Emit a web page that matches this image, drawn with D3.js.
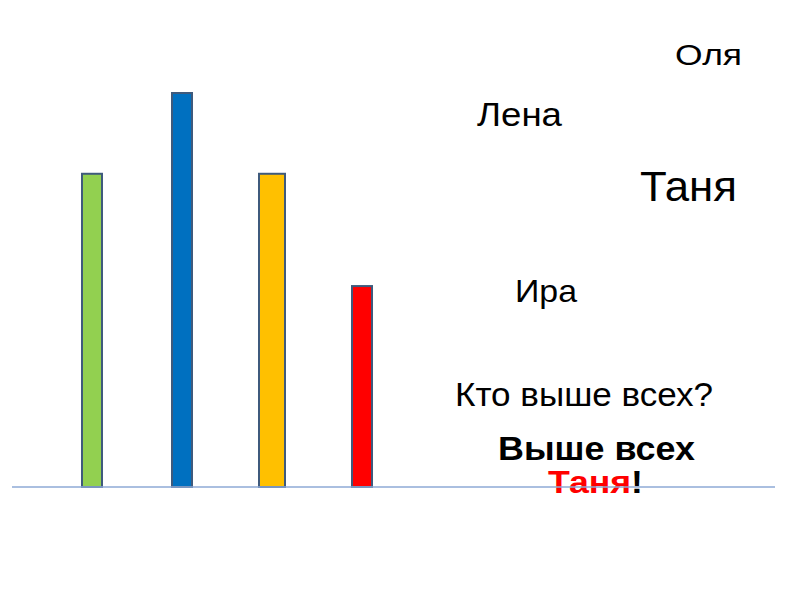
<!DOCTYPE html>
<html>
<head>
<meta charset="utf-8">
<script src="https://cdn.jsdelivr.net/npm/d3@7"></script>
<style>
  body { margin: 0; background: #fff; }
  svg { display: block; font-family: "Liberation Sans", Arial, sans-serif; }
</style>
</head>
<body>
<script>
// bar data (heights)
var girls = ["Оля", "Таня", "Лена", "Ира"];
var heights = [159, 200, 159, 102];
var colors = ["#92d050", "#0070c0", "#ffc000", "#ff0000"];
var barWidths = [20, 20, 26, 20];

var width = 800,
    height = 600;

var svg = d3.select("body")
    .append("svg")
    .attr("width", width)
    .attr("height", height);

var x = d3.scaleBand()
    .domain(girls)
    .range([47, 407]);

var y = d3.scaleLinear()
    .domain([0, 200])
    .range([487, 93]);

//bars
svg.selectAll(".bar")
    .data(girls)
    .enter()
    .append("rect")
    .attr("class", "bar")
    .attr("x", function(d, i){ return x(d) + x.bandwidth() / 2 - barWidths[i] / 2; })
    .attr("y", function(d, i){ return y(heights[i]); })
    .attr("width", function(d, i){ return barWidths[i]; })
    .attr("height", function(d, i){ return y(0) - y(heights[i]); })
    .attr("fill", function(d, i){ return colors[i]; })
    .attr("stroke", "#3f5a7c")
    .attr("stroke-width", 2);

//name labels (text in the slide is a bit stretched, so fix widths)
var labels = [
    {t: "Оля", x: 675, y: 65, s: 30, w: 67},
    {t: "Лена", x: 477, y: 126, s: 33, w: 85},
    {t: "Таня", x: 640, y: 201, s: 43, w: 97},
    {t: "Ира", x: 515, y: 302, s: 32, w: 62},
    {t: "Кто выше всех?", x: 455, y: 406, s: 34, w: 258}
];
svg.selectAll(".lbl")
    .data(labels)
    .enter()
    .append("text")
    .attr("class", "lbl")
    .attr("x", function(d){ return d.x; })
    .attr("y", function(d){ return d.y; })
    .attr("font-size", function(d){ return d.s + "px"; })
    .attr("textLength", function(d){ return d.w; })
    .attr("lengthAdjust", "spacingAndGlyphs")
    .attr("fill", "#000")
    .text(function(d){ return d.t; });

svg.append("text")
    .attr("x", 498)
    .attr("y", 460)
    .attr("font-size", "34px")
    .attr("font-weight", "bold")
    .attr("textLength", 197)
    .attr("lengthAdjust", "spacingAndGlyphs")
    .text("Выше всех");

var ans = svg.append("text")
    .attr("x", 548)
    .attr("y", 493)
    .attr("font-size", "32px")
    .attr("font-weight", "bold")
    .attr("textLength", 95)
    .attr("lengthAdjust", "spacingAndGlyphs");
ans.append("tspan").attr("fill", "#ff0000").text("Таня");
ans.append("tspan").attr("fill", "#000").text("!");

//baseline (drawn over the text, as in the slide)
svg.append("line")
    .attr("x1", 12)
    .attr("x2", 775)
    .attr("y1", y(0))
    .attr("y2", y(0))
    .attr("stroke", "#8eaad6")
    .attr("stroke-width", 1.5);
</script>
</body>
</html>
